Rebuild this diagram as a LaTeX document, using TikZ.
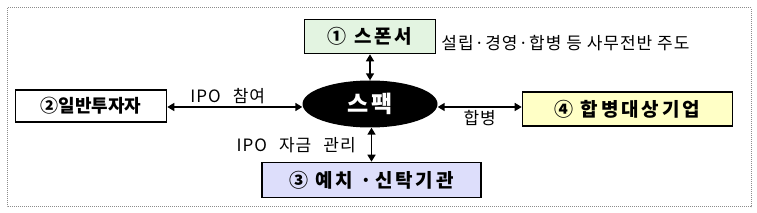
\documentclass[tikz,border=0pt]{standalone}
\usepackage{fontspec}
\setmainfont{Noto Sans CJK KR}
\newfontfamily\boxfont{Noto Sans CJK KR}[LetterSpace=15]
\newfontfamily\labelfont{Noto Sans CJK KR}[LetterSpace=6]
\newfontfamily\notefont{Noto Sans CJK KR}[LetterSpace=6]
\newcommand\widespaces{\spaceskip=12pt\relax}
\usepackage{tikz}
\usetikzlibrary{arrows.meta,positioning,shapes.geometric}
\definecolor{framegrey}{HTML}{8C8C8C}
\definecolor{sponsorgreen}{HTML}{E3F4E1}
\definecolor{targetyellow}{HTML}{FFFFC6}
\definecolor{trustlilac}{HTML}{DDDEFB}
\tikzset{
  partybox/.style={rectangle,draw=black,line width=1.4pt,align=center,inner sep=0pt,font=\boxfont\fontsize{19}{21}\selectfont\bfseries},
  spacnode/.style={ellipse,fill=black,inner sep=0pt,minimum width=135pt,minimum height=47pt,text=white,font=\boxfont\fontsize{23}{25}\selectfont\bfseries},
  linklabel/.style={font={\labelfont\fontsize{17}{19}\selectfont\widespaces},inner sep=1pt},
  notelabel/.style={font=\notefont\fontsize{17}{19}\selectfont,inner sep=1pt},
  biarrow/.style={{Triangle[length=7pt,width=8pt]}-{Triangle[length=7pt,width=8pt]},line width=1.6pt,draw=black}
}

\begin{document}
\begin{tikzpicture}[x=1pt,y=-1pt]
  \useasboundingbox (0,0) rectangle (757,213);
  \draw[framegrey,line width=1pt,dash pattern=on 1pt off 1pt] (7,8) rectangle (751,207);

  \node[spacnode] (spac) at (370,104) {스팩};
  \node[partybox, fill=sponsorgreen, minimum width=131pt, minimum height=34pt, above=26pt of spac] (sponsor) {① 스폰서};
  \node[partybox, fill=white, minimum width=151pt, minimum height=32pt, left=135pt of spac, yshift=-2pt,
        font=\fontsize{18}{20}\selectfont\bfseries] (investor) {②일반투자자};
  \node[partybox, fill=targetyellow, minimum width=210pt, minimum height=34pt, right=84pt of spac, yshift=-5pt] (target) {④ 합병대상기업};
  \node[partybox, fill=trustlilac, minimum width=219pt, minimum height=35pt, below=34pt of spac, xshift=1.5pt] (trust) {③ 예치 ·신탁기관};
  \node[notelabel, right=4pt of sponsor, yshift=-6pt] (role) {설립·경영·합병 등 사무전반 주도};

  \draw[biarrow] (sponsor) -- (spac);
  \draw[biarrow] (investor.east |- 0,107) -- node[linklabel, above=1pt, xshift=-7pt] (ipo) {IPO 참여} (spac.west |- 0,107);
  \draw[biarrow] (spac.east |- 0,107) -- node[linklabel, below=2pt] (merge) {합병} (target.west |- 0,107);
  \draw[biarrow] (spac.south -| trust) -- node[linklabel, left=14pt] (fund) {IPO 자금 관리} (trust);
\end{tikzpicture}
\end{document}
